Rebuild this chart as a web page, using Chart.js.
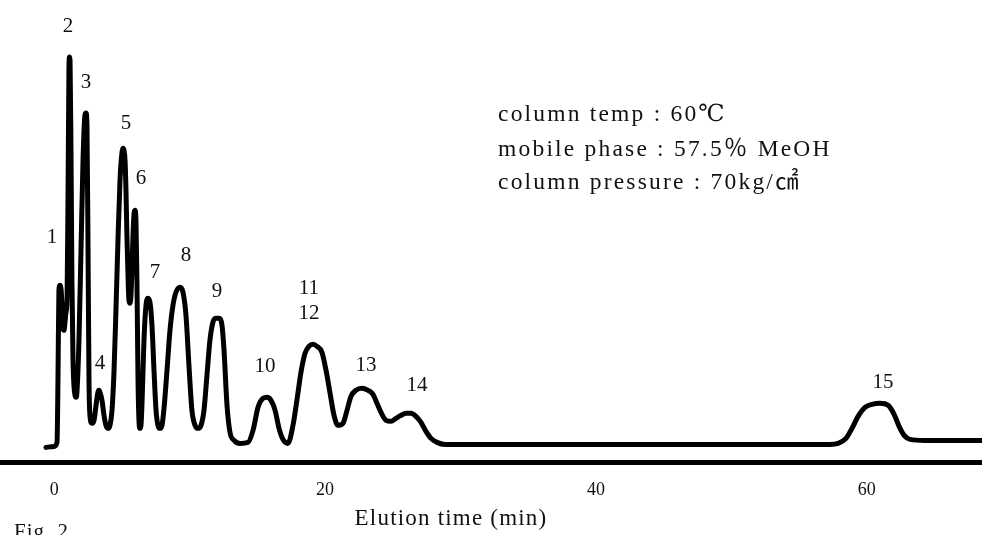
<!DOCTYPE html>
<html>
<head>
<meta charset="utf-8">
<script src="https://cdn.jsdelivr.net/npm/chart.js@4"></script>
<style>
  html, body { margin: 0; padding: 0; background: #fff; }
  #wrap { width: 982px; height: 535px; }
</style>
</head>
<body>
<div id="wrap"><canvas id="c" width="982" height="535"></canvas></div>
<script>
// Elution time (min)
const elutionTime = [
  -0.61, -0.01, 0.21, 0.28, 0.35, 0.43, 0.50, 0.58, 0.65, 0.72, 0.80, 0.87, 0.95, 1.02, 1.09, 1.13, 1.17, 1.24, 1.31, 1.39,
  1.54, 1.61, 1.68, 1.83, 1.98, 2.13, 2.27, 2.35, 2.42, 2.50, 2.57, 2.64, 2.79, 2.94, 3.09, 3.23, 3.31, 3.38, 3.53, 3.68,
  3.82, 3.97, 4.12, 4.27, 4.42, 4.56, 4.71, 4.86, 5.01, 5.08, 5.15, 5.23, 5.30, 5.37, 5.45, 5.52, 5.60, 5.67, 5.74, 5.82,
  5.89, 5.97, 6.04, 6.11, 6.19, 6.26, 6.33, 6.41, 6.48, 6.63, 6.78, 6.93, 7.07, 7.22, 7.37, 7.52, 7.66, 7.81, 7.96, 8.11,
  8.33, 8.55, 8.77, 8.99, 9.29, 9.51, 9.73, 9.95, 10.17, 10.40, 10.62, 10.84, 11.06, 11.28, 11.50, 11.72, 11.95, 12.17, 12.39, 12.54,
  12.76, 12.98, 13.28, 13.72, 14.31, 14.68, 15.05, 15.42, 15.71, 16.01, 16.31, 16.60, 16.89, 17.26, 17.63, 17.92, 18.22, 18.52, 18.81, 19.11,
  19.40, 19.77, 20.07, 20.37, 20.66, 20.95, 21.32, 21.62, 21.91, 22.28, 22.72, 23.17, 23.54, 23.83, 24.20, 24.50, 24.87, 25.23, 25.61, 25.97,
  26.34, 26.71, 27.08, 27.45, 27.82, 28.26, 28.85, 40.29, 55.06, 57.27, 57.87, 58.46, 58.90, 59.35, 59.86, 60.38, 60.97, 61.57, 62.01, 62.38,
  62.75, 63.19, 64.29, 68.50
];
// Detector response (arbitrary units)
const response = [
  15, 16, 20, 82, 172, 177, 174, 157, 134, 132, 140, 150, 162, 262, 392, 405, 402, 312, 182, 102,
  67, 65, 70, 122, 212, 302, 347, 349, 337, 212, 82, 47, 39, 42, 57, 70, 72, 70, 62, 47,
  37, 34, 37, 52, 92, 152, 222, 282, 310, 314, 312, 302, 272, 227, 187, 162, 159, 167, 192, 227,
  247, 252, 240, 182, 82, 42, 34, 37, 57, 122, 157, 164, 160, 137, 92, 52, 37, 34, 37, 54,
  92, 132, 157, 170, 175, 170, 147, 97, 52, 37, 34, 37, 52, 87, 122, 140, 144, 144, 137, 112,
  57, 30, 22, 19, 20, 32, 55, 64, 65, 62, 52, 34, 23, 19, 37, 62, 90, 109, 116, 118,
  116, 110, 92, 69, 47, 37, 39, 52, 66, 72, 74, 72, 68, 59, 48, 42, 41, 44, 47, 49,
  49, 46, 40, 31, 24, 20, 18, 18, 18, 18, 19, 24, 34, 46, 55, 58, 59, 57, 48, 36,
  27, 23, 22, 22
];
// Peak numbers and label anchor positions (time, response)
const peakNames = ["1", "2", "3", "4", "5", "6", "7", "8", "9", "10", "11", "12", "13", "14", "15"];
const peakLabelTime = [-0.16, 1.02, 2.35, 3.38, 5.30, 6.41, 7.44, 9.73, 12.02, 15.56, 18.81, 18.81, 23.02, 26.79, 61.19];
const peakLabelResp = [225, 436, 380, 99, 339, 284, 190, 207, 171, 96, 174, 149, 97, 77, 80];
const xTicks = [0, 20, 40, 60];
const xTitle = "Elution time (min)";
const conditions = ["column temp : 60℃", "mobile phase : 57.5％ MeOH", "column pressure : 70kg/㎠"];
const figCaption = "Fig. 2";

const SERIF = "'Liberation Serif', 'DejaVu Serif', 'Noto Sans CJK JP', serif";

const annot = {
  id: 'annot',
  afterDraw(chart) {
    const ctx = chart.ctx;
    const xs = chart.scales.x, ys = chart.scales.y;
    const ca = chart.chartArea;
    ctx.save();
    ctx.fillStyle = '#111';
    ctx.textAlign = 'center';
    ctx.textBaseline = 'middle';
    ctx.font = "21px " + SERIF;
    peakNames.forEach((n, i) => {
      ctx.fillText(n, xs.getPixelForValue(peakLabelTime[i]), ys.getPixelForValue(peakLabelResp[i]));
    });
    // axis title
    ctx.font = "23px " + SERIF;
    try { ctx.letterSpacing = '1.2px'; } catch (e) {}
    ctx.fillText(xTitle, ca.left + 451, ca.bottom + 57);
    // conditions
    ctx.textAlign = 'left';
    ctx.font = "23.5px " + SERIF;
    try { ctx.letterSpacing = '2.2px'; } catch (e) {}
    const lineY = [115, 150, 183];
    conditions.forEach((t, i) => {
      ctx.fillText(t, ca.left + 498, ca.top + lineY[i]);
    });
    ctx.textBaseline = 'top';
    ctx.font = "21px " + SERIF;
    try { ctx.letterSpacing = '1px'; } catch (e) {}
    ctx.fillText(figCaption, 14, 522);
    ctx.restore();
  }
};

new Chart(document.getElementById('c'), {
  type: 'line',
  data: {
    datasets: [{
      data: elutionTime.map((t, i) => ({ x: t, y: response[i] })),
      borderColor: '#000',
      borderWidth: 5,
      pointRadius: 0,
      cubicInterpolationMode: 'monotone',
      borderJoinStyle: 'round',
      borderCapStyle: 'round',
      fill: false,
      clip: false
    }]
  },
  options: {
    responsive: false,
    animation: false,
    devicePixelRatio: 1,
    layout: { padding: { left: 0, right: 0, top: 0, bottom: 17 } },
    plugins: { legend: { display: false }, tooltip: { enabled: false } },
    scales: {
      x: {
        type: 'linear',
        min: -4.0,
        max: 68.5,
        afterBuildTicks: (s) => { s.ticks = xTicks.map(v => ({ value: v })); },
        grid: { display: true, drawOnChartArea: false, drawTicks: false },
        border: { display: true, color: '#000', width: 5 },
        ticks: {
          color: '#111',
          padding: 17,
          font: { family: SERIF, size: 18 },
          maxRotation: 0,
          callback: (v) => String(v)
        },
        title: { display: false, text: xTitle }
      },
      y: {
        display: false,
        min: 0,
        max: 462
      }
    }
  },
  plugins: [annot]
});
</script>
</body>
</html>
